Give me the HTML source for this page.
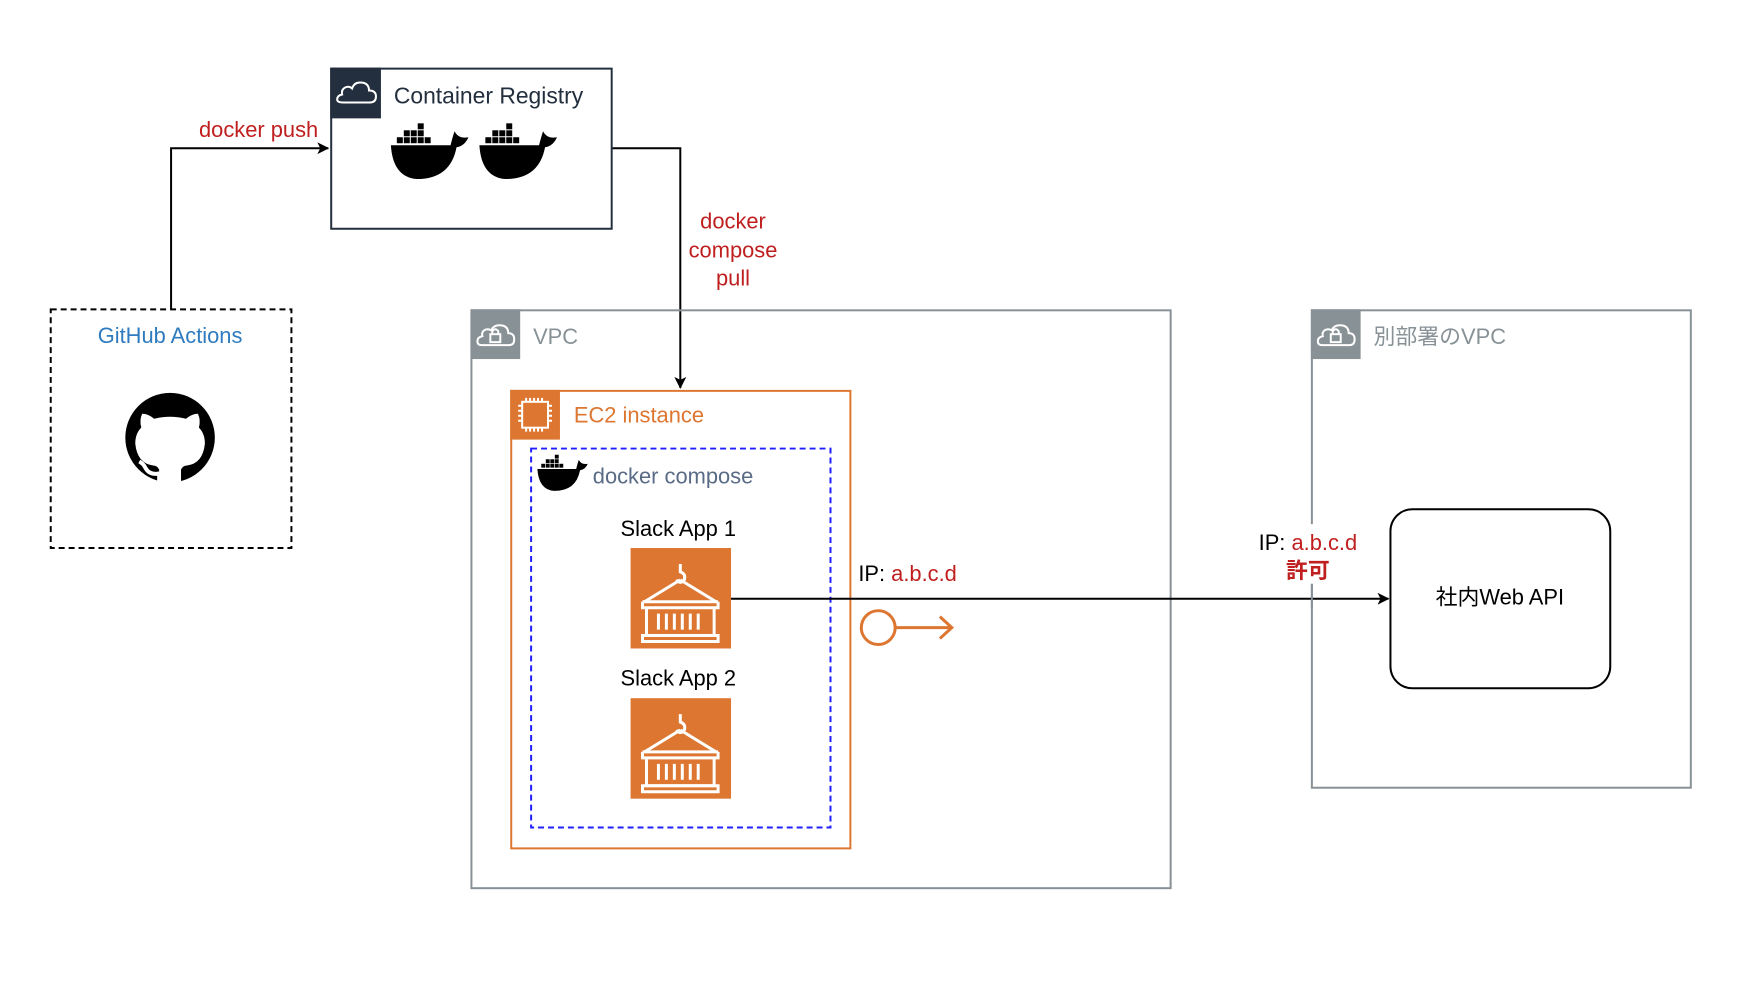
<!DOCTYPE html>
<html><head><meta charset="utf-8"><style>
html,body{margin:0;padding:0;background:#fff;}
svg{display:block;font-family:"Liberation Sans","Noto Sans CJK JP",sans-serif;}
</style></head><body>
<svg width="1750" height="1000" viewBox="0 0 1750 1000" xmlns="http://www.w3.org/2000/svg">
<defs>
<g id="whale">
  <path d="M2,30 H62 Q64,22 66,16 Q70,24 80,22 Q76,31 68,32 Q62,64 28,64 Q4,62 2,30Z" fill="#000"/>
  <g fill="#000">
    <rect x="8" y="22" width="6" height="6"/><rect x="15" y="22" width="6" height="6"/><rect x="22" y="22" width="6" height="6"/><rect x="29" y="22" width="6" height="6"/><rect x="36" y="22" width="6" height="6"/>
    <rect x="15" y="15" width="6" height="6"/><rect x="22" y="15" width="6" height="6"/><rect x="29" y="15" width="6" height="6"/>
    <rect x="29" y="8" width="6" height="6"/>
  </g>
</g>
<g id="cont">
  <rect x="0" y="0" width="101" height="101" fill="#dd7631"/>
  <g fill="none" stroke="#fff" stroke-width="3">
    <path d="M50,16 v8 q6,2 4,8 q-4,5 -8,0"/>
    <path d="M50,32 L14,54 M50,32 L86,54"/>
    <path d="M12,54 H88 M12,54 v6 H88 v-6"/>
    <path d="M16,60 V88 H84 V60"/>
    <path d="M12,88 H88 v6 H12Z"/>
    <path d="M28,66 V82 M36,66 V82 M44,66 V82 M52,66 V82 M60,66 V82 M68,66 V82"/>
  </g>
</g>
<marker id="ah" markerWidth="12" markerHeight="12" refX="11" refY="6" orient="auto" markerUnits="userSpaceOnUse">
  <path d="M0,0 L12,6 L0,12 L3,6Z" fill="#000"/>
</marker>
</defs>
<g transform="scale(0.9946)">
<path d="M172,311 V149 H330" fill="none" stroke="#000" stroke-width="2" marker-end="url(#ah)"/>
<path d="M615,149 H684 V390" fill="none" stroke="#000" stroke-width="2" marker-end="url(#ah)"/>

<rect x="333" y="69" width="282" height="161" fill="#fff" stroke="#232f3e" stroke-width="2"/>
<rect x="332" y="68" width="51" height="51" fill="#232f3e"/>
<path d="M345,103 h27 q6,0 6,-6 q0,-6 -7,-6 q0,-8 -9,-8 q-6,0 -8,6 q-3,-3 -7,-1 q-4,2 -3,7 q-5,1 -5,5 q0,3 6,3z" fill="none" stroke="#fff" stroke-width="2"/>
<text x="396" y="104" font-size="23" fill="#232f3e">Container Registry</text>
<use href="#whale" transform="translate(391,116)"/>
<use href="#whale" transform="translate(480,116)"/>
<text x="260" y="138" font-size="22" fill="#c01f1f" text-anchor="middle">docker push</text>

<rect x="51" y="311" width="242" height="240" fill="none" stroke="#000" stroke-width="2" stroke-dasharray="6,4"/>
<text x="171" y="345" font-size="22" fill="#2f7bbf" text-anchor="middle">GitHub Actions</text>
<circle cx="171" cy="440" r="45" fill="#000"/>
<path d="M160,486 v-14 q-2,-4 -6,-4 q-16,-2 -18,-22 q0,-10 6,-16 q-2,-8 1,-14 q6,0 12,5 q16,-4 32,0 q6,-5 12,-5 q3,6 1,14 q6,6 6,16 q-2,20 -18,22 q-4,0 -6,4 v14z" fill="#fff"/>
<path d="M160,486 v-10 q-10,2 -14,-6 q-2,-4 -6,-6" fill="none" stroke="#fff" stroke-width="4"/>

<text x="737" y="230" font-size="22" fill="#c01f1f" text-anchor="middle">docker</text>
<text x="737" y="259" font-size="22" fill="#c01f1f" text-anchor="middle">compose</text>
<text x="737" y="287" font-size="22" fill="#c01f1f" text-anchor="middle">pull</text>

<rect x="474" y="312" width="703" height="581" fill="none" stroke="#879196" stroke-width="2"/>
<rect x="473" y="311" width="50" height="50" fill="#879196"/>
<g fill="none" stroke="#fff" stroke-width="2">
<path d="M484,347 h28 q5,0 5,-6 q0,-6 -6,-6 q0,-8 -9,-8 q-6,0 -8,5 q-4,-2 -7,0 q-3,2 -2,6 q-5,1 -5,5 q0,4 4,4z"/>
<rect x="493" y="336" width="10" height="8"/><path d="M495,336 v-3 q3,-4 6,0 v3"/>
</g>
<text x="536" y="346" font-size="22" fill="#879196">VPC</text>

<rect x="1319" y="312" width="381" height="480" fill="none" stroke="#879196" stroke-width="2"/>
<rect x="1318" y="311" width="50" height="50" fill="#879196"/>
<g fill="none" stroke="#fff" stroke-width="2">
<path d="M1329,347 h28 q5,0 5,-6 q0,-6 -6,-6 q0,-8 -9,-8 q-6,0 -8,5 q-4,-2 -7,0 q-3,2 -2,6 q-5,1 -5,5 q0,4 4,4z"/>
<rect x="1338" y="336" width="10" height="8"/><path d="M1340,336 v-3 q3,-4 6,0 v3"/>
</g>
<text x="1381" y="346" font-size="22" fill="#879196">別部署のVPC</text>

<rect x="514" y="393" width="341" height="460" fill="none" stroke="#dd7631" stroke-width="2"/>
<rect x="513" y="392" width="50" height="50" fill="#dd7631"/>
<g fill="none" stroke="#fff" stroke-width="2">
<rect x="525" y="404" width="26" height="26"/>
<path d="M529,404 v-4 M533,404 v-4 M537,404 v-4 M541,404 v-4 M545,404 v-4 M529,430 v4 M533,430 v4 M537,430 v4 M541,430 v4 M545,430 v4 M525,408 h-4 M525,413 h-4 M525,418 h-4 M525,423 h-4 M551,408 h4 M551,413 h4 M551,418 h4 M551,423 h4"/>
</g>
<text x="577" y="425" font-size="22" fill="#dd7631">EC2 instance</text>

<rect x="534" y="451" width="301" height="381" fill="none" stroke="#2020ff" stroke-width="2" stroke-dasharray="6,4"/>
<use href="#whale" transform="translate(539,452) scale(0.65)"/>
<text x="596" y="486" font-size="22" fill="#5a6b86">docker compose</text>

<text x="682" y="539" font-size="22" fill="#000" text-anchor="middle">Slack App 1</text>
<use href="#cont" transform="translate(634,551)"/>
<text x="682" y="689" font-size="22" fill="#000" text-anchor="middle">Slack App 2</text>
<use href="#cont" transform="translate(634,702)"/>

<path d="M735,602 H1396" fill="none" stroke="#000" stroke-width="2" marker-end="url(#ah)"/>
<text x="863" y="584" font-size="22" fill="#000">IP: <tspan fill="#c01f1f">a.b.c.d</tspan></text>
<g fill="none" stroke="#dd7631" stroke-width="3">
<circle cx="883" cy="631" r="17"/>
<path d="M900,631 H956 M945,620 L957,631 L945,642"/>
</g>

<rect x="1262" y="527" width="108" height="60" fill="#fff"/>
<text x="1315" y="553" font-size="22" fill="#000" text-anchor="middle">IP: <tspan fill="#c01f1f">a.b.c.d</tspan></text>
<text x="1315" y="581" font-size="22" fill="#c01f1f" font-weight="bold" text-anchor="middle">許可</text>
<line x1="1319" y1="587" x2="1319" y2="612" stroke="#879196" stroke-width="2"/>

<rect x="1398" y="512" width="221" height="180" rx="22" fill="#fff" stroke="#000" stroke-width="2"/>
<text x="1508" y="608" font-size="22" fill="#000" text-anchor="middle">社内Web API</text>
</g>
</svg>
</body></html>
